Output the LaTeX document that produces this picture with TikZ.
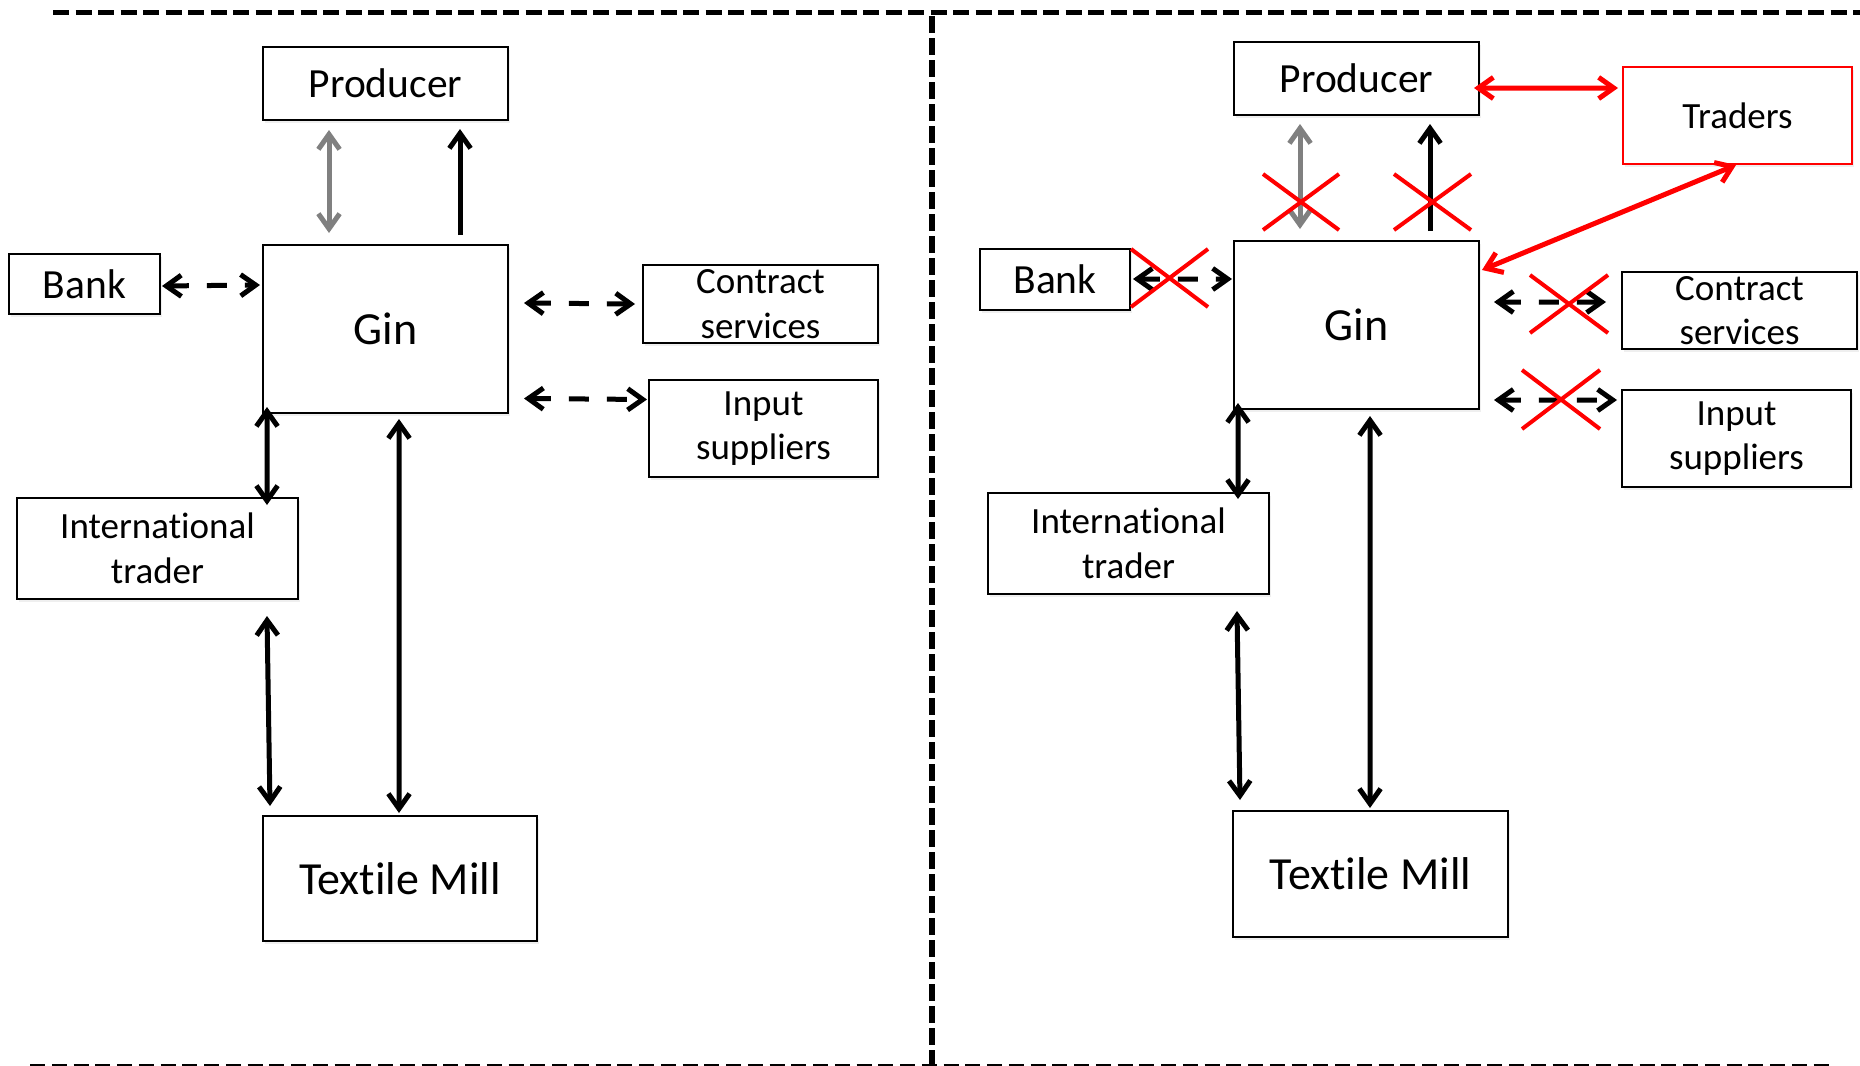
\documentclass[tikz,border=0pt]{standalone}
\usepackage{fontspec}
\setmainfont{Carlito}[Ligatures=NoCommon]
\usetikzlibrary{arrows.meta,calc,shadows}
\definecolor{arrgray}{HTML}{808080}
\definecolor{xred}{HTML}{FF0000}
\begin{document}
\begin{tikzpicture}[x=0.4pt,y=-0.4pt,
  >={Straight Barb[length=6pt,width=8.5pt]},
  box/.style={draw=black, line width=0.8pt, fill=white, rectangle, inner sep=0pt, align=center,
    drop shadow={shadow xshift=0.8pt, shadow yshift=-1.2pt, opacity=0.12}},
  fs/.style={font=\fontsize{14.8pt}{17.8pt}\selectfont},
  fm/.style={font=\fontsize{16.6pt}{20pt}\selectfont},
  fl/.style={font=\fontsize{18.4pt}{22pt}\selectfont},
  con/.style={line width=2pt, black},
  dcon/.style={con, dash pattern=on 8pt off 7.2pt},
  gcon/.style={con, draw=arrgray},
  rcon/.style={con, draw=xred},
  crossx/.style={draw=xred, line width=1.6pt},
  divider/.style={draw=black}
]
\fill[white] (0,0) rectangle (1860,1066);
\useasboundingbox (0,0) rectangle (1860,1066);

% dividers
\draw[divider, line width=2pt, dash pattern=on 6.4pt off 2.6pt] (53,12.5) -- (1860,12.5);
\draw[divider, line width=2.4pt, dash pattern=on 6.6pt off 2.2pt] (932,16) -- (932,1066);
\draw[divider, line width=0.8pt, dash pattern=on 6pt off 2.7pt] (30,1064.5) -- (1833,1064.5);

% ---------- left panel ----------
\node[box, fm, minimum width=98pt, minimum height=29.2pt] (prodL) at (385.5,83.5) {Producer};
\node[box, fl, minimum width=98pt, minimum height=67.2pt] (ginL) at (385.5,329) {Gin};
\node[box, fm, minimum width=60.4pt, minimum height=24pt] (bankL) at (84.5,284) {Bank};
\node[box, fs, minimum width=94pt, minimum height=31.2pt] (contL) at (760.5,304) {Contract\\services};
\node[box, fs, minimum width=91.6pt, minimum height=38.8pt] (inpL) at (763.5,428.5) {Input\\suppliers};
\node[box, fs, minimum width=112.4pt, minimum height=40.4pt] (intL) at (157.5,548.5) {International\\trader};
\node[box, fl, minimum width=109.6pt, minimum height=50pt] (texL) at (400,878.5) {Textile Mill};

\draw[gcon,<->] ($(prodL.south west)+(67,9)$) -- ($(ginL.north west)+(67,-11)$);
\draw[con,->] ($(ginL.north west)+(198,-9)$) -- ($(prodL.south west)+(198,8)$);
\draw[dcon,<->] ($(bankL.east)+(1,2)$) -- ($(ginL.north west)+(-2,41)$);
\draw[dcon,<->] ($(ginL.north east)+(15,59)$) -- ($(contL.west)+(-7,0)$);
\draw[dcon,<->] ($(ginL.north east)+(15,154.5)$) -- ($(inpL.west)+(-1,-29)$);
\draw[con,<->] ($(ginL.south west)+(5,-7)$) -- ($(intL.north west)+(251,8)$);
\draw[con,<->] ($(intL.south west)+(251,16)$) -- ($(texL.north west)+(8,-9)$);
\draw[con,<->] ($(ginL.south west)+(137,5)$) -- ($(texL.north west)+(137,-2)$);

% ---------- right panel ----------
\node[box, fm, minimum width=98pt, minimum height=29.2pt] (prodR) at (1356.5,78.5) {Producer};
\node[box, fs, draw=xred, minimum width=91.6pt, minimum height=38.8pt] (tradR) at (1737.5,115.5) {Traders};
\node[box, fl, minimum width=98pt, minimum height=67.2pt] (ginR) at (1356.5,325) {Gin};
\node[box, fm, minimum width=60pt, minimum height=24.4pt] (bankR) at (1055,279.5) {Bank};
\node[box, fs, minimum width=94pt, minimum height=30.8pt] (contR) at (1739.5,310.5) {Contract\\services};
\node[box, fs, minimum width=91.6pt, minimum height=38.8pt] (inpR) at (1736.5,438.5) {Input\\suppliers};
\node[box, fs, minimum width=112.4pt, minimum height=40.4pt] (intR) at (1128.5,543.5) {International\\trader};
\node[box, fl, minimum width=110pt, minimum height=50.4pt] (texR) at (1370.5,874) {Textile Mill};

\draw[gcon,<->] ($(prodR.south west)+(67,8)$) -- ($(ginR.north west)+(67,-11)$);
\draw[con,->] ($(ginR.north west)+(197,-9)$) -- ($(prodR.south west)+(197,8)$);
\draw[rcon,<->] ($(prodR.north east)+(-6,47)$) -- ($(tradR.north west)+(-4,22)$);
\draw[rcon,<->] ($(tradR.south)+(-1.5,0)$) -- ($(ginR.north east)+(2,30)$);
\draw[dcon,<->] ($(bankR.north east)+(2,31)$) -- ($(ginR.north west)+(-1,39)$);
\draw[dcon,<->] ($(ginR.north east)+(14,62)$) -- ($(contR.north west)+(-15,31)$);
\draw[dcon,<->] ($(ginR.north east)+(14,160)$) -- ($(inpR.north west)+(-4,11)$);
\draw[con,<->] ($(ginR.south west)+(5,-7)$) -- ($(intR.north west)+(251,7)$);
\draw[con,<->] ($(intR.south west)+(250,16)$) -- ($(texR.north west)+(8,-10)$);
\draw[con,<->] ($(ginR.south west)+(137,6)$) -- ($(texR.north west)+(138,-2)$);

% red crosses
\draw[crossx] (1263,174) -- (1339,230) (1263,230) -- (1339,174);
\draw[crossx] (1394,174) -- (1471,230) (1394,230) -- (1471,174);
\draw[crossx] (1131,249) -- (1208,307) (1131,307) -- (1208,249);
\draw[crossx] (1530,275) -- (1608,333) (1530,333) -- (1608,275);
\draw[crossx] (1522,370) -- (1600,429) (1522,429) -- (1600,370);
\end{tikzpicture}
\end{document}
